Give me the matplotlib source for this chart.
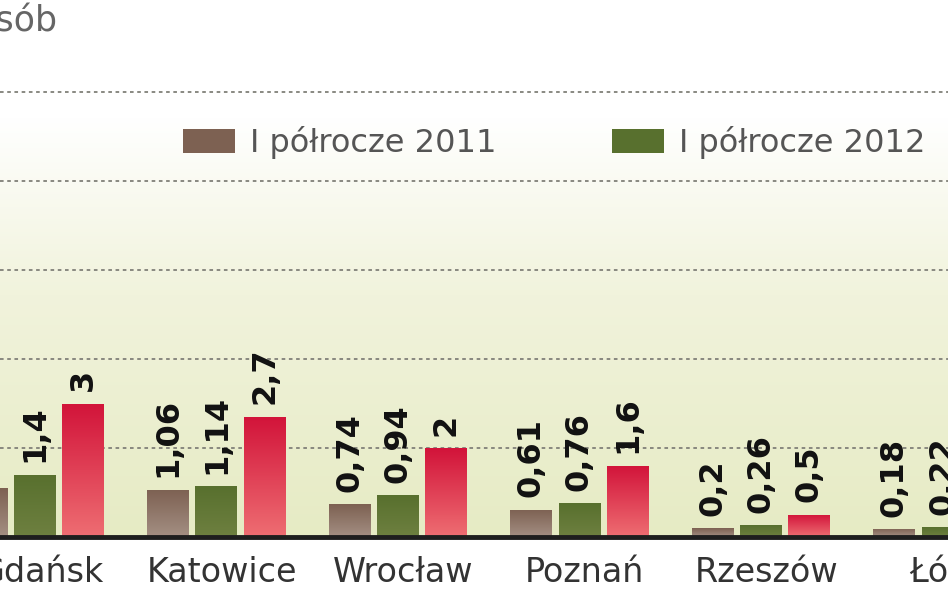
import numpy as np
import matplotlib
matplotlib.use("Agg")
import matplotlib.pyplot as plt
from matplotlib.patches import Patch
from matplotlib.colors import LinearSegmentedColormap

# Dane (mln osób)
miasta = ["Gdańsk", "Katowice", "Wrocław", "Poznań", "Rzeszów", "Łódź"]
polrocze_2011 = [1.1, 1.06, 0.74, 0.61, 0.2, 0.18]
polrocze_2012 = [1.4, 1.14, 0.94, 0.76, 0.26, 0.22]
trzecia_seria = [3, 2.7, 2, 1.6, 0.5, np.nan]
etykiety = ["I półrocze 2011", "I półrocze 2012"]

kolory = [("#7d6152", "#a48f83"), ("#58702e", "#6e8040"), ("#d2143a", "#ee6d72")]

fig = plt.figure(figsize=(9.48, 5.93), dpi=100)
ax = fig.add_axes([0, 0.0944, 1, 0.9056])
ax.set_xlim(-0.192, 5.016)
ax.set_ylim(0, 12.07)

# Tło z gradientem
tlo = LinearSegmentedColormap.from_list("tlo", [(0, "#e6ebc4"), (0.45, "#f1f3dc"), (0.78, "#ffffff"), (1, "#ffffff")])
ax.imshow(np.linspace(0, 1, 256).reshape(-1, 1)[::-1], extent=[0, 1, 0, 1], transform=ax.transAxes,
          aspect="auto", cmap=tlo, zorder=0)

for g in [2, 4, 6, 8, 10]:
    ax.axhline(g, color="#808078", lw=1.3, ls=(0, (2, 2)), zorder=1)

x = np.arange(len(miasta))
szer = 0.231
krok = 0.266
serie = [polrocze_2011, polrocze_2012, trzecia_seria]

for i, (vals, (c_top, c_bot)) in enumerate(zip(serie, kolory)):
    bars = ax.bar(x + (i - 1) * krok, vals, width=szer, color=c_top, zorder=2)
    cmap = LinearSegmentedColormap.from_list("b%d" % i, [c_bot, c_top])
    for b, v in zip(bars, vals):
        if np.isnan(v):
            continue
        x0, w, h = b.get_x(), b.get_width(), b.get_height()
        im = ax.imshow(np.linspace(0, 1, 64).reshape(-1, 1)[::-1], extent=[x0, x0 + w, 0, h],
                       aspect="auto", cmap=cmap, zorder=2.1)
        im.set_clip_path(b)
        ax.annotate(str(v).replace(".", ","), (b.get_x() + w / 2, h), xytext=(0, 9),
                    textcoords="offset points", rotation=90, ha="center", va="bottom",
                    fontsize=23, fontweight="bold", color="#111111", zorder=3)

ax.set_xlim(-0.192, 5.016)
ax.set_ylim(0, 12.07)
ax.axhline(0, color="#1e1e1e", lw=3.5, zorder=4, clip_on=False)

ax.set_xticks(x + 0.03)
ax.set_xticklabels(miasta, fontsize=24, color="#333333")
ax.tick_params(axis="x", length=0, pad=14)
ax.set_yticks([])
for s in ax.spines.values():
    s.set_visible(False)

uchwyty = [Patch(facecolor=kolory[0][0]), Patch(facecolor=kolory[1][0])]
ax.legend(uchwyty, etykiety, ncol=2, loc="center left", bbox_to_anchor=(183 / 948, 0.759),
          bbox_transform=fig.transFigure, frameon=False, fontsize=23, labelcolor="#555555",
          handlelength=1.63, handleheight=0.78, handletextpad=0.47, columnspacing=3.6,
          borderpad=0, borderaxespad=0)

fig.text(57 / 948, 1 - 22 / 593, "mln osób", ha="right", va="center", fontsize=25, color="#666666")

fig.savefig("out.png", dpi=100)
